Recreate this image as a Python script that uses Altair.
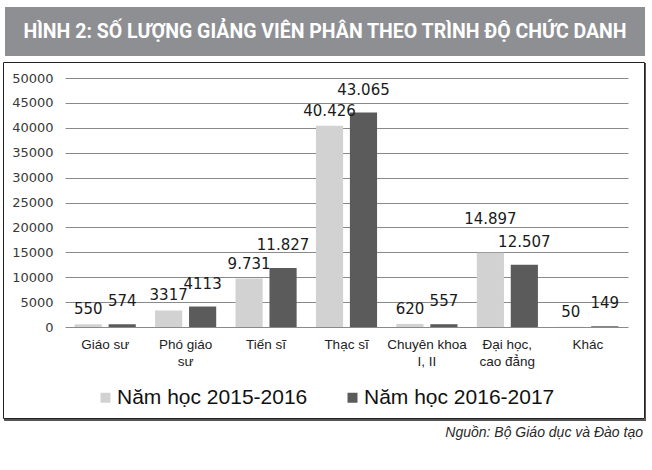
import altair as alt
import pandas as pd

categories = ["Giáo sư", "Phó giáo\nsư", "Tiến sĩ", "Thạc sĩ", "Chuyên khoa\nI, II", "Đại học,\ncao đẳng", "Khác"]
series = ["Năm học 2015-2016", "Năm học 2016-2017"]
values_2015 = [550, 3317, 9731, 40426, 620, 14897, 50]
values_2016 = [574, 4113, 11827, 43065, 557, 12507, 149]
labels_2015 = ["550", "3317", "9.731", "40.426", "620", "14.897", "50"]
labels_2016 = ["574", "4113", "11.827", "43.065", "557", "12.507", "149"]
y_ticks = list(range(0, 50001, 5000))
title_text = "HÌNH 2: SỐ LƯỢNG GIẢNG VIÊN PHÂN THEO TRÌNH ĐỘ CHỨC DANH"
source_text = "Nguồn: Bộ Giáo dục và Đào tạo"

rows = []
for c, v, l in zip(categories, values_2015, labels_2015):
    rows.append({"cat": c, "series": series[0], "value": v, "label": l})
for c, v, l in zip(categories, values_2016, labels_2016):
    rows.append({"cat": c, "series": series[1], "value": v, "label": l})
df = pd.DataFrame(rows)

one = alt.Data(values=[{}])

PL, PT = 65, 78  # plot origin within canvas

banner = alt.Chart(one).mark_rect(fill="#8e8f93").encode(
    x=alt.value(5 - PL), x2=alt.value(645 - PL),
    y=alt.value(7 - PT), y2=alt.value(56 - PT),
)
title = alt.Chart(one).mark_text(
    text=title_text, color="white", font="Roboto",
    fontWeight="bold", fontSize=19.5, align="center", baseline="middle",
).encode(x=alt.value(325 - PL), y=alt.value(32 - PT))

frame = alt.Chart(one).mark_rect(fill="transparent", stroke="#222222", strokeWidth=1).encode(
    x=alt.value(3.5 - PL), x2=alt.value(644.5 - PL),
    y=alt.value(62.5 - PT), y2=alt.value(418.5 - PT),
)
shadow_b = alt.Chart(one).mark_rect(fill="#555555").encode(
    x=alt.value(4 - PL), x2=alt.value(646 - PL),
    y=alt.value(419 - PT), y2=alt.value(421 - PT),
)
shadow_r = alt.Chart(one).mark_rect(fill="#555555").encode(
    x=alt.value(645 - PL), x2=alt.value(646 - PL),
    y=alt.value(63 - PT), y2=alt.value(421 - PT),
)

x_axis = alt.Axis(
    labelExpr="split(datum.label, '\\n')", labelAngle=0, domain=False, ticks=False,
    labelPadding=10, labelFont="Liberation Sans", labelFontSize=13.5,
    labelColor="#222222", labelLineHeight=17, labelBaseline="top",
)
y_axis = alt.Axis(
    values=y_ticks, format="d", labelOverlap=False, domain=False, ticks=False,
    tickSize=0, labelPadding=12,
    labelFont="DejaVu Sans", labelFontSize=13, labelColor="#3a3a3a",
    grid=True, gridColor="#8a8a8a", gridWidth=1,
)
x_scale = alt.Scale(paddingInner=0.24, paddingOuter=0.12)
y_scale = alt.Scale(domain=[0, 50000], nice=False)

xenc = alt.X("cat:N", sort=categories, title=None, scale=x_scale, axis=x_axis)
xoff = alt.XOffset("series:N", sort=series, scale=alt.Scale(paddingInner=0.2, paddingOuter=0))

bars = alt.Chart(df).mark_bar().encode(
    x=xenc, xOffset=xoff,
    y=alt.Y("value:Q", title=None, scale=y_scale, axis=y_axis),
    color=alt.Color(
        "series:N", sort=series,
        scale=alt.Scale(domain=series, range=["#d2d2d2", "#5b5b5b"]),
        legend=alt.Legend(
            title=None, orient="none", legendX=30, legendY=309, direction="horizontal",
            symbolType="square", symbolSize=100, symbolStrokeWidth=0,
            labelFont="Liberation Sans", labelFontSize=21, labelColor="#111111",
            labelOffset=1, columnPadding=34, padding=0, labelLimit=400,
        ),
    ),
)

# labels: a taller first-year bar gets its label lifted clear of its neighbour's
label_base = alt.Chart(df).transform_joinaggregate(
    pairmax="max(value)", groupby=["cat"]
).transform_calculate(
    ly=f"datum.value + ((datum.series == '{series[0]}' && datum.value == datum.pairmax && datum.value > 5000) ? 3800 : 0)"
)
ylab = alt.Y("ly:Q", title=None, scale=y_scale, axis=y_axis)

lab15 = label_base.transform_filter(alt.datum.series == series[0]).mark_text(
    font="DejaVu Sans", fontSize=15, color="#1a1a1a", baseline="alphabetic", dy=-10,
).encode(x=xenc, xOffset=xoff, y=ylab, text="label:N")
lab16 = label_base.transform_filter(alt.datum.series == series[1]).mark_text(
    font="DejaVu Sans", fontSize=15, color="#1a1a1a", baseline="alphabetic", dy=-18,
).encode(x=xenc, xOffset=xoff, y=ylab, text="label:N")

source = alt.Chart(one).mark_text(
    text=source_text, color="#2a2a2a", font="Liberation Sans",
    fontStyle="italic", fontSize=14, align="right", baseline="middle",
).encode(x=alt.value(643 - PL), y=alt.value(433 - PT))

chart = alt.layer(banner, title, frame, shadow_b, shadow_r, bars, lab15, lab16, source).properties(
    width=563, height=249,
    padding={"left": PL, "top": PT, "right": 652 - PL - 563, "bottom": 470 - PT - 249},
    autosize=alt.AutoSizeParams(type="none"),
    background="white",
).configure_view(strokeWidth=0)

chart.save("out.html", embed_options={"renderer": "svg", "actions": False})
